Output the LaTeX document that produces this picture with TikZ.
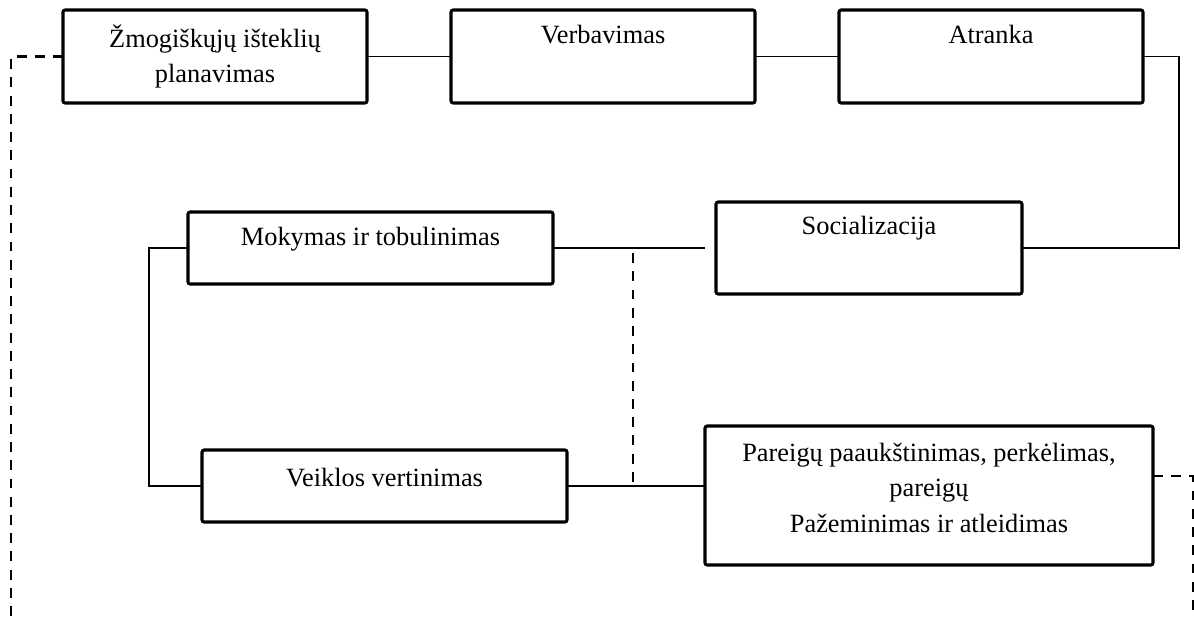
\documentclass[tikz,border=0pt]{standalone}
\usepackage{fontspec}
\setmainfont{Liberation Serif}
\usetikzlibrary{positioning}

\begin{document}
\begin{tikzpicture}[every node/.style={draw, line width=1.4pt, outer sep=0pt, rounded corners=1pt, align=center, font=\fontsize{12}{16}\selectfont},
		toprow/.style={minimum width=4.864cm, minimum height=1.488cm},
		wide/.style={minimum width=5.84cm, minimum height=1.152cm},
		link/.style={line width=0.8pt},
		back/.style={line width=1.2pt, dash pattern=on 4.5pt off 3.8pt}]
		\useasboundingbox (0,0) rectangle (19.104,-9.888);
		\node (planavimas) [toprow] at (3.44,-0.904) {Žmogiškųjų išteklių\\planavimas};
		\node (verbavimas) [toprow, right=1.344cm of planavimas, text depth=20pt] {Verbavimas};
		\node (atranka) [toprow, right=1.344cm of verbavimas, text depth=20pt] {Atranka};
		
		\node (socializacija) [below=1.584cm of atranka, xshift=-1.952cm, minimum width=4.896cm, minimum height=1.472cm, text depth=21pt] {Socializacija};
		\node (mokymas) [wide, left=2.608cm of socializacija, text depth=11pt] {Mokymas ir tobulinimas};
		\node (vertinimas) [wide, below=2.656cm of mokymas, xshift=0.224cm, text depth=8pt] {Veiklos vertinimas};
		\node (pareigos) [right=2.208cm of vertinimas, yshift=-0.152cm, minimum width=7.168cm, minimum height=2.224cm, text depth=7pt] {Pareigų paaukštinimas, perkėlimas,\\pareigų\\Pažeminimas ir atleidimas};
		
		\coordinate (dashtop) at (10.128,-4.05);
		\coordinate (leftend) at (0.176,-9.888);
		\coordinate (rightend) at (19.088,-9.888);
		
		% Lines
		\draw[link] (planavimas) -- (verbavimas);
		\draw[link] (verbavimas) -- (atranka);
		\draw[link] (atranka.east) -- ++(0.576,0) |- (socializacija.east);
		\draw[link, shorten <=0.176cm] (socializacija.west) -- (mokymas.east);
		\draw[link] (mokymas.west) -- ++(-0.624,0) |- (vertinimas.west);
		\draw[link] (vertinimas.east) -- (vertinimas.east -| pareigos.west);
		
		% Dashed
		\draw[back] (dashtop) -- (dashtop |- vertinimas.east);
		\draw[back] (planavimas.west) -| (leftend);
		\draw[back] (pareigos.5) -| (rightend);
	\end{tikzpicture}
\end{document}
